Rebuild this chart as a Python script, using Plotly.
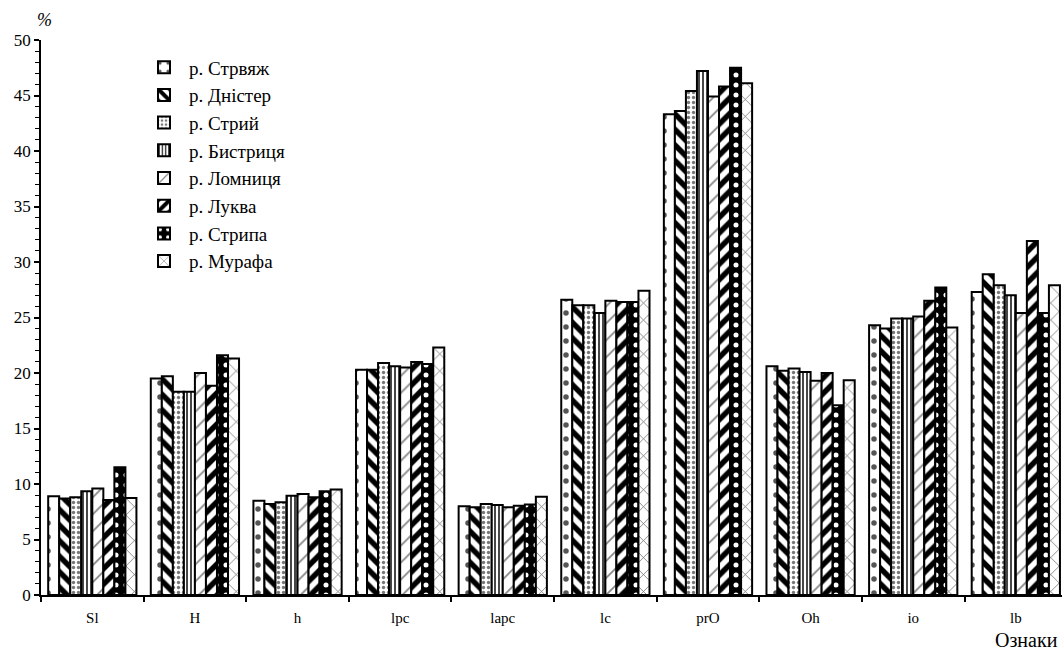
import plotly.graph_objects as go

categories = ["Sl", "H", "h", "lpc", "lapc", "lc", "prO", "Oh", "io", "lb"]

series_names = ["р. Стрвяж", "р. Дністер", "р. Стрий", "р. Бистриця",
                "р. Ломниця", "р. Луква", "р. Стрипа", "р. Мурафа"]

strvyazh = [8.9, 19.5, 8.5, 20.3, 8.0, 26.6, 43.3, 20.6, 24.3, 27.3]
dnister  = [8.7, 19.7, 8.2, 20.3, 7.9, 26.1, 43.6, 20.2, 24.0, 28.9]
stryi    = [8.8, 18.3, 8.35, 20.9, 8.2, 26.1, 45.4, 20.4, 24.9, 27.9]
bystr    = [9.35, 18.3, 8.95, 20.6, 8.1, 25.4, 47.2, 20.1, 24.9, 27.0]
lomn     = [9.6, 20.0, 9.1, 20.5, 7.9, 26.5, 44.9, 19.3, 25.1, 25.4]
lukva    = [8.55, 18.85, 8.8, 21.0, 8.05, 26.4, 45.8, 20.0, 26.5, 31.9]
strypa   = [11.5, 21.6, 9.35, 20.8, 8.15, 26.4, 47.5, 17.1, 27.7, 25.4]
murafa   = [8.75, 21.3, 9.5, 22.3, 8.85, 27.4, 46.1, 19.35, 24.1, 27.9]

values = [strvyazh, dnister, stryi, bystr, lomn, lukva, strypa, murafa]

# (marker colour, pattern shape, fg colour, size, solidity)
styles = [
    ("white", ".", "#555555", 14, 0.12),
    ("white", "\\", "black", 11, 0.5),
    ("white", ".", "#777777", 5, 0.35),
    ("white", "|", "#333333", 4, 0.45),
    ("white", "/", "#888888", 12, 0.15),
    ("white", "/", "black", 11, 0.5),
    ("black", ".", "white", 10, 0.2),
    ("white", "x", "#666666", 12, 0.12),
]

fig = go.Figure()
for name, vals, (col, shp, fg, sz, sol) in zip(series_names, values, styles):
    fig.add_trace(go.Bar(
        x=categories, y=vals, name=name,
        marker=dict(color=col, line=dict(color="black", width=2),
                    pattern=dict(shape=shp, fgcolor=fg, bgcolor=col, size=sz,
                                 solidity=sol, fillmode="replace")),
    ))

font_family = "Liberation Serif, Times New Roman, serif"

fig.update_layout(
    width=1062, height=654,
    paper_bgcolor="white", plot_bgcolor="white",
    margin=dict(l=41, r=0, t=40, b=59, autoexpand=False),
    barmode="group", bargap=0.14, bargroupgap=0,
    font=dict(family=font_family, size=16, color="black"),
    showlegend=True,
    legend=dict(x=0.096, y=0.985, xanchor="left", yanchor="top",
                font=dict(family=font_family, size=19),
                bgcolor="rgba(0,0,0,0)", itemwidth=40),
    xaxis=dict(range=[-0.5, 9.45], showline=True, linecolor="black", linewidth=1.5,
               ticks="outside", ticklen=5, tickcolor="black", tickwidth=1.5,
               tickson="boundaries", showgrid=False, zeroline=False,
               ticklabelstandoff=8, automargin=False,
               tickfont=dict(size=15)),
    yaxis=dict(range=[0, 50], dtick=5, showline=True, linecolor="black", linewidth=1.5,
               ticks="outside", ticklen=5, tickcolor="black", tickwidth=1.5,
               minor=dict(dtick=1, ticks="outside", ticklen=4, tickcolor="black", tickwidth=1),
               showgrid=False, zeroline=False, automargin=False,
               tickfont=dict(size=17)),
    annotations=[
        dict(text="%", xref="paper", yref="paper", x=0.0, y=1.0, xanchor="left",
             yanchor="bottom", yshift=8, xshift=-6, showarrow=False,
             font=dict(family=font_family, size=18, style="italic")),
        dict(text="Ознаки", xref="paper", yref="paper", x=1.0, y=0, xanchor="right",
             yanchor="top", yshift=-32, xshift=-2, showarrow=False,
             font=dict(family=font_family, size=20)),
    ],
)

fig.write_html(
    "out.html",
    config={"displayModeBar": False},
    post_script="document.body.style.margin='0';document.body.style.overflow='hidden';",
)
